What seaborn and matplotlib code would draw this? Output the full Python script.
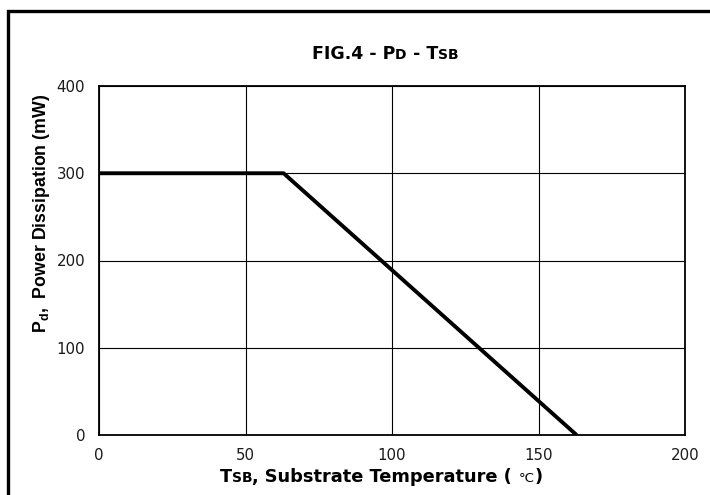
import matplotlib
matplotlib.use("Agg")
import matplotlib.pyplot as plt
import seaborn as sns
import pandas as pd
from matplotlib.offsetbox import TextArea, HPacker, AnnotationBbox
from matplotlib.patches import Rectangle

# Data
temperature = [0, 63, 163]      # Tsb (°C)
power = [300, 300, 0]           # Pd (mW)
x_ticks = [0, 50, 100, 150, 200]
y_ticks = [0, 100, 200, 300, 400]

sns.set_style("white")
plt.rcParams['font.family'] = ['DejaVu Sans']
plt.rcParams['mathtext.fontset'] = 'custom'
plt.rcParams['mathtext.rm'] = 'Liberation Sans'
plt.rcParams['mathtext.bf'] = 'Liberation Sans:bold'

fig = plt.figure(figsize=(7.1, 4.95), dpi=100)
ax = fig.add_axes([99/710, 1-435/495, (685-99)/710, (435-86)/495])

df = pd.DataFrame({"T": temperature, "P": power})
sns.lineplot(data=df, x="T", y="P", ax=ax, color="black", linewidth=2.8,
             estimator=None, sort=False, solid_capstyle="butt", zorder=3)

ax.set_xlim(0, 200)
ax.set_ylim(0, 400)
ax.set_xticks(x_ticks)
ax.set_yticks(y_ticks)
ax.set_xticklabels([str(v) for v in x_ticks])
ax.set_yticklabels([str(v) for v in y_ticks])
ax.tick_params(axis='both', length=0, labelsize=10.8, colors='#1a1a1a')
ax.tick_params(axis='x', pad=9)
ax.tick_params(axis='y', pad=10)
ax.grid(True, color='black', linewidth=0.8)
for s in ax.spines.values():
    s.set_color('black')
    s.set_linewidth(1.3)
ax.set_xlabel("")
ax.set_ylabel("")

def packed(parts, xy):
    boxes = []
    for txt, fs, bold in parts:
        boxes.append(TextArea(txt, textprops=dict(
            fontsize=fs, fontweight='bold' if bold else 'normal',
            color='black', family='DejaVu Sans')))
    pack = HPacker(children=boxes, align='baseline', pad=0, sep=0)
    ab = AnnotationBbox(pack, xy, xycoords='figure fraction',
                        box_alignment=(0.5, 0.5), frameon=False)
    fig.add_artist(ab)

# Title with small caps
packed([("FIG.4 - P", 12.5, True), ("D", 10, True), (" - T", 12.5, True),
        ("SB", 10, True)], (385/710, 1-54/495))

# X axis label
packed([("T", 12.8, True), ("SB", 10, True),
        (", Substrate Temperature ( ", 12.8, True), ("°C", 9.5, False),
        (")", 12.8, True)], (381/710, 1-477/495))

# Y axis label
fig.text(42/710, 1-213/495, r"$\mathbf{P}_\mathbf{d}$,  Power Dissipation (mW)",
         rotation=90, ha='center', va='center', fontsize=12.8,
         fontweight='bold', color='black', family='Liberation Sans')

# Outer border (cropped on right and bottom)
fig.add_artist(Rectangle((7.5/710, -0.2), 1.3, 1.2 - 10.5/495,
                         transform=fig.transFigure, fill=False,
                         edgecolor='black', linewidth=2.4, clip_on=False))

fig.savefig("out.png", dpi=100)
